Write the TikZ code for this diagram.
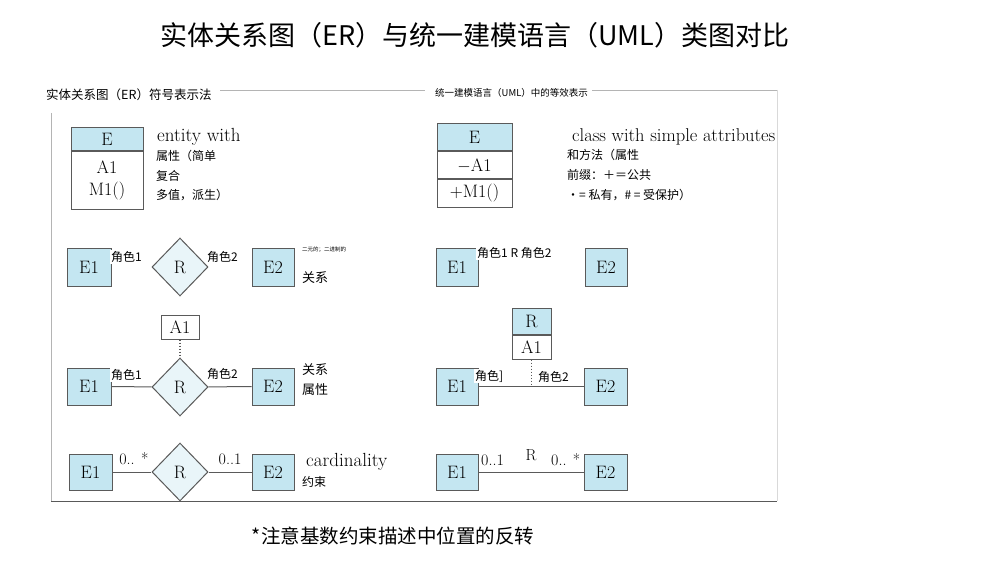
\documentclass[tikz,border=0pt]{standalone}
\usepackage{fontspec}
\usepackage{tikz}
\usetikzlibrary{positioning,shapes.geometric}
\newfontfamily\cjk{Noto Sans CJK SC}
\definecolor{ink}{HTML}{5a5a5a}
\definecolor{entfill}{HTML}{c4e6f1}
\definecolor{relfill}{HTML}{e9f5f9}
\definecolor{frame}{HTML}{b4b4b4}

\begin{document}
\begin{tikzpicture}[
  x=1pt, y=-1pt,
  ent/.style={draw=ink, line width=1pt, fill=entfill, inner sep=0pt, font=\fontsize{18}{20}\selectfont},
  attr/.style={ent, fill=white},
  rel/.style={diamond, draw=ink, line width=1pt, fill=relfill, inner sep=0pt, aspect=1, minimum width=56pt, minimum height=58pt, font=\fontsize{18}{20}\selectfont},
  conn/.style={draw=ink, line width=1pt},
  lab/.style={inner sep=0pt, anchor=west, font=\cjk\fontsize{12}{14}\selectfont},
  role/.style={lab, fill=white, inner sep=1pt},
  serif/.style={inner sep=0pt, anchor=west, font=\fontsize{19}{21}\selectfont},
]
\useasboundingbox (0,0) rectangle (1007,567);
% titles
\node[inner sep=0pt, font=\cjk\fontsize{27}{30}\selectfont] (title) at (475,35) {实体关系图（ER）与统一建模语言（UML）类图对比};
\node[lab, font=\cjk\fontsize{12.5}{14}\selectfont] (erhead) at (46,95) {实体关系图（ER）符号表示法};
\node[lab, font=\cjk\fontsize{9.5}{11}\selectfont] (umlhead) at (435,93) {统一建模语言（UML）中的等效表示};
\node[inner sep=0pt, font=\cjk\fontsize{19.5}{22}\selectfont] (foot) at (393,536) {*注意基数约束描述中位置的反转};
% frame
\draw[frame] (220,90) -- (425,90);
\draw[frame] (592,90) -- (777,90);
\draw[draw=black!15] (777,90) -- (777,501);
\draw[frame] (51,113) -- (51,501);
\draw[draw=black!65, line width=0.8pt] (51,501) -- (777,501);

% row 1: entity with attributes
\node[ent, minimum width=72pt, minimum height=23pt] (eE) at (107,139.5) {E};
\node[attr, minimum width=72pt, minimum height=57pt, align=center, anchor=north] (eA) at (eE.south) {A1\\[2pt]M1()};
\node[serif] (ewith) at (157,137) {entity with};
\node[lab] (e1) at (156,156) {属性（简单};
\node[lab] (e2) at (156,176) {复合};
\node[lab] (e3) at (156,195) {多值，派生）};
\node[ent, minimum width=75pt, minimum height=27pt] (cE) at (474.5,137.5) {E};
\node[attr, minimum width=75pt, minimum height=27pt, anchor=north] (cA) at (cE.south) {$-$A1};
\node[attr, minimum width=75pt, minimum height=27pt, anchor=north] (cM) at (cA.south) {+M1()};
\node[serif, font=\fontsize{18.5}{20}\selectfont] (cwith) at (572,137) {class with simple attributes};
\node[lab] (c1) at (567,155) {和方法（属性};
\node[lab] (c2) at (567,175) {前缀：＋＝公共};
\node[lab] (c3) at (567,195) {•= 私有，\# = 受保护）};

% row 2: binary relationship
\node[ent, minimum width=44pt, minimum height=38pt] (bE1) at (89,267) {E1};
\node[rel] (bR) at (180,267) {R};
\node[ent, minimum width=42pt, minimum height=38pt] (bE2) at (273,267) {E2};
\node[role] (b1) at (110,257) {角色1};
\node[role] (b2) at (206,257) {角色2};
\node[lab, font=\cjk\fontsize{5.5}{6}\selectfont] (btiny) at (302,250) {二元的；二进制的};
\node[lab, font=\cjk\fontsize{13}{15}\selectfont] (brel) at (302,278) {关系};
\node[ent, minimum width=42pt, minimum height=38pt] (uE1) at (457,267) {E1};
\node[ent, minimum width=42pt, minimum height=38pt] (uE2) at (606,267) {E2};
\node[role] (u1) at (476,253) {角色1 R 角色2};

% row 3: relationship attribute
\node[attr, minimum width=38pt, minimum height=24pt] (aA) at (180,327) {A1};
\node[rel] (aR) at (180,387) {R};
\node[ent, minimum width=44pt, minimum height=37pt] (aE1) at (89,386.5) {E1};
\node[ent, minimum width=42pt, minimum height=37pt] (aE2) at (273,386.5) {E2};
\draw[conn] (aE1) -- (aR);
\draw[conn] (aR) -- (aE2);
\draw[conn, dotted, line width=1.2pt] (aA) -- (aR);
\node[role] (a1) at (110,375) {角色1};
\node[role] (a2) at (206,374) {角色2};
\node[lab, font=\cjk\fontsize{13}{15}\selectfont] (a3) at (302,370) {关系};
\node[lab, font=\cjk\fontsize{13}{15}\selectfont] (a4) at (302,390) {属性};
\node[ent, minimum width=39pt, minimum height=26pt] (vR) at (531.5,321) {R};
\node[attr, minimum width=39pt, minimum height=24pt, anchor=north] (vA) at (vR.south) {A1};
\node[ent, minimum width=42pt, minimum height=37pt] (vE1) at (457,386.5) {E1};
\node[ent, minimum width=43pt, minimum height=37pt] (vE2) at (605.5,386.5) {E2};
\coordinate (vJ) at (vA.south |- vE1.east);
\draw[conn] (vE1) -- (vE2);
\draw[conn, dotted, line width=1.2pt] (vA) -- (vJ);
\node[role] (v1) at (474,376) {角色]};
\node[lab] (v2) at (538,377) {角色2};

% row 4: cardinality
\node[ent, minimum width=43pt, minimum height=36pt] (kE1) at (90.5,472) {E1};
\node[rel] (kR) at (180,472) {R};
\node[ent, minimum width=42pt, minimum height=36pt] (kE2) at (273,472) {E2};
\draw[conn] (kE1) -- node[pos=0.55, above=3pt, font=\fontsize{16}{18}\selectfont] {0.. *} (kR);
\draw[conn] (kR) -- node[pos=0.5, above=3pt, font=\fontsize{16}{18}\selectfont] {0..1} (kE2);
\node[serif] (kcard) at (306,462) {cardinality};
\node[lab] (kcon) at (302,482) {约束};
\node[ent, minimum width=42pt, minimum height=36pt] (wE1) at (457,472) {E1};
\node[ent, minimum width=43pt, minimum height=36pt] (wE2) at (605.5,472) {E2};
\draw[conn] (wE1) -- node[pos=0.5, above=7pt, font=\fontsize{16}{18}\selectfont] {R} (wE2);
\node[serif, font=\fontsize{16}{18}\selectfont] (w1) at (481,460) {0..1};
\node[serif, font=\fontsize{16}{18}\selectfont] (w2) at (551,460) {0.. *};
\end{tikzpicture}
\end{document}
